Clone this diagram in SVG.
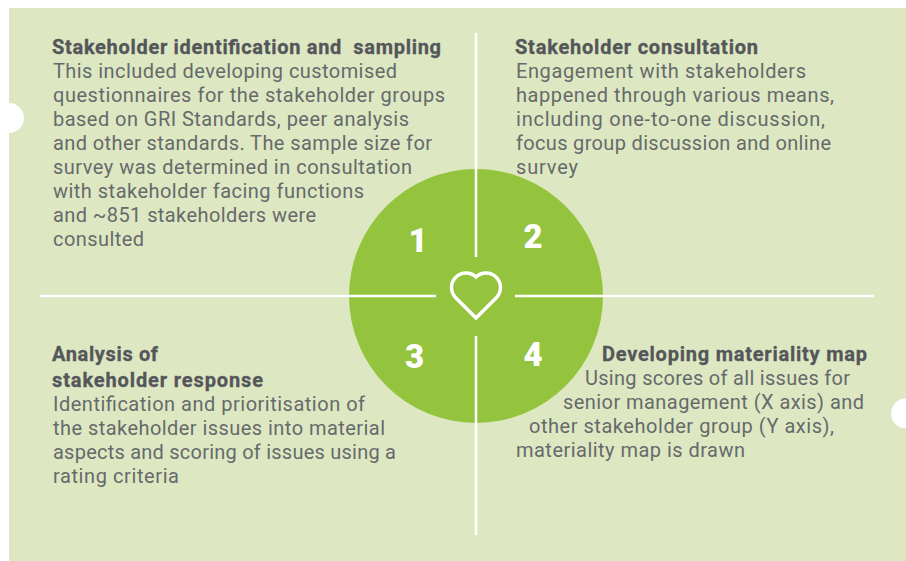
<svg xmlns="http://www.w3.org/2000/svg" width="906" height="561" viewBox="0 0 906 561">
<style>
.t{font-family:"Roboto","Liberation Sans",sans-serif;font-size:20px;fill:#666a6b}
.b{font-family:"Roboto","Liberation Sans",sans-serif;font-size:20px;font-weight:700;fill:#54565a;stroke:#54565a;stroke-width:.3}
.n{font-family:"Roboto","Liberation Sans",sans-serif;font-size:33px;font-weight:900;fill:#fff;text-anchor:middle}
.l{stroke:#fff;stroke-width:2.5;fill:none}
</style>
<rect width="906" height="561" fill="#fff"/>
<rect x="9" y="8" width="897" height="553" fill="#dde8c2"/>
<circle cx="9" cy="118" r="15" fill="#fff"/>
<circle cx="906" cy="413.500" r="15" fill="#fff"/>
<g id="hub">
<circle cx="476" cy="296" r="127" fill="#94c43d"/>
<path d="M476 318L455.500 297.500A14.500 14.500 0 0 1 476 277A14.500 14.500 0 0 1 496.500 297.500Z" fill="none" stroke="#fff" stroke-width="3.500"/>
</g>
<g id="connectors">
<path class="l" d="M476 33V257M476 336V535M40 296H436M515 296H874"/>
</g>
<g id="node1">
<text class="n" x="418" y="252">1</text>
<text class="b" x="52" y="54" textLength="389" xml:space="preserve">Stakeholder identification and  sampling</text>
<text class="t" x="53" y="78" textLength="344">This included developing customised</text>
<text class="t" x="53" y="102" textLength="392">questionnaires for the stakeholder groups</text>
<text class="t" x="53" y="126" textLength="356">based on GRI Standards, peer analysis</text>
<text class="t" x="53" y="150" textLength="379">and other standards. The sample size for</text>
<text class="t" x="53" y="174" textLength="359">survey was determined in consultation</text>
<text class="t" x="53" y="198" textLength="311">with stakeholder facing functions</text>
<text class="t" x="53" y="222" textLength="263">and ~851 stakeholders were</text>
<text class="t" x="53" y="246" textLength="91">consulted</text>
</g>
<g id="node2">
<text class="n" x="533" y="248">2</text>
<text class="b" x="515" y="54" textLength="243">Stakeholder consultation</text>
<text class="t" x="516" y="78" textLength="290">Engagement with stakeholders</text>
<text class="t" x="516" y="102" textLength="318">happened through various means,</text>
<text class="t" x="516" y="126" textLength="309">including one-to-one discussion,</text>
<text class="t" x="516" y="150" textLength="315">focus group discussion and online</text>
<text class="t" x="516" y="174" textLength="62">survey</text>
</g>
<g id="node3">
<text class="n" x="414.500" y="368">3</text>
<text class="b" x="52" y="361" textLength="106">Analysis of</text>
<text class="b" x="52" y="387" textLength="211">stakeholder response</text>
<text class="t" x="53" y="411" textLength="312">Identification and prioritisation of</text>
<text class="t" x="53" y="435" textLength="332">the stakeholder issues into material</text>
<text class="t" x="53" y="459" textLength="343">aspects and scoring of issues using a</text>
<text class="t" x="53" y="483" textLength="126">rating criteria</text>
</g>
<g id="node4">
<text class="n" x="533" y="366">4</text>
<text class="b" x="602" y="361" textLength="265">Developing materiality map</text>
<text class="t" x="585" y="385" textLength="265">Using scores of all issues for</text>
<text class="t" x="563" y="409" textLength="301">senior management (X axis) and</text>
<text class="t" x="529" y="433" textLength="305">other stakeholder group (Y axis),</text>
<text class="t" x="516" y="457" textLength="229">materiality map is drawn</text>
</g>
</svg>
